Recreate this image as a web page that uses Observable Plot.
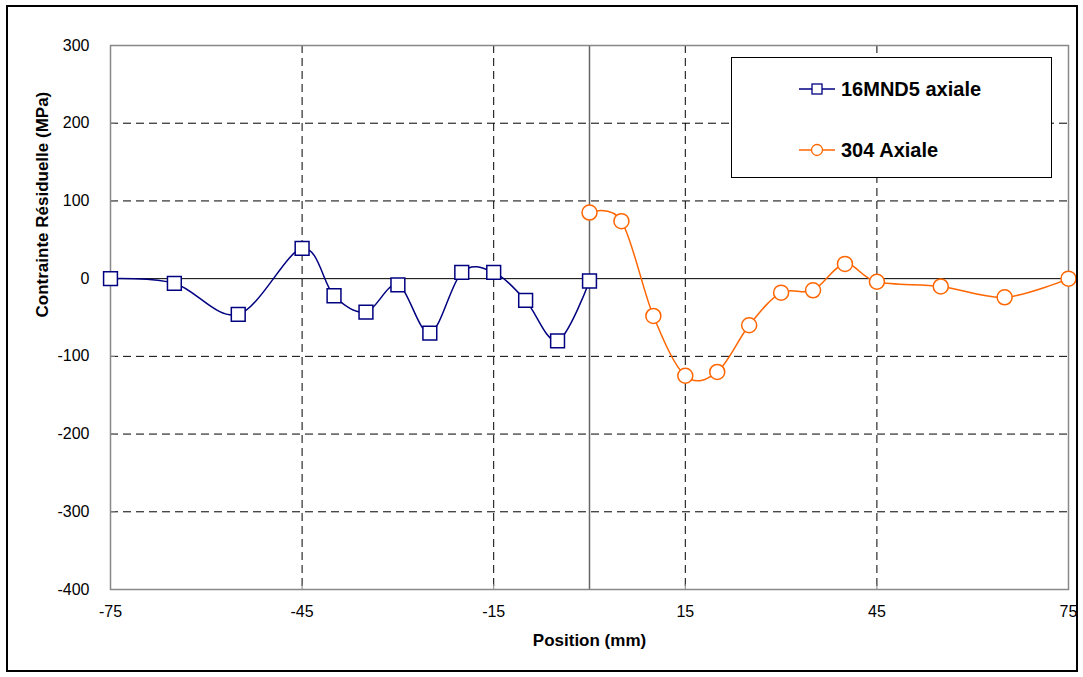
<!DOCTYPE html>
<html><head><meta charset="utf-8">
<script src="https://cdn.jsdelivr.net/npm/d3@7"></script>
<script src="https://cdn.jsdelivr.net/npm/@observablehq/plot@0.6"></script>
<style>
body{margin:0;background:#fff;font-family:"Liberation Sans",Arial,sans-serif;}
#wrap{position:relative;width:1083px;height:677px;overflow:hidden}
#border{position:absolute;left:6px;top:5px;width:1072px;height:667px;box-sizing:border-box;border:2px solid #000;pointer-events:none}
#legend{position:absolute;left:731px;top:57px;width:321px;height:121px;box-sizing:border-box;border:1.5px solid #000;background:#fff}
.entry{position:absolute;left:67px;height:30px;display:flex;align-items:center;font-weight:bold;font-size:20px;color:#000;white-space:nowrap}
.entry svg{margin-right:6px}
</style></head><body><div id="wrap"></div>
<script>
const seriesNames = ["16MND5 axiale", "304 Axiale"];
const posA = [-75, -65, -55, -45, -40, -35, -30, -25, -20, -15, -10, -5, 0];
const valA = [0, -6, -46, 39, -22, -43, -8, -70, 8, 8, -28, -80, -3];
const posB = [0, 5, 10, 15, 20, 25, 30, 35, 40, 45, 55, 65, 75];
const valB = [85, 74, -48, -125, -120, -60, -18, -15, 19, -4, -10, -24, 0];
const xTicks = [-75, -45, -15, 15, 45, 75];
const yTicks = [-400, -300, -200, -100, 0, 100, 200, 300];
const xGrid = [-45, -15, 15, 45];
const yGrid = [-300, -200, -100, 100, 200];
const colors = ["#000080", "#FF6600"];

const A = posA.map((x, i) => ({x, y: valA[i]}));
const B = posB.map((x, i) => ({x, y: valB[i]}));

const chart = Plot.plot({
  width: 1083, height: 677,
  marginLeft: 110, marginRight: 15, marginTop: 45, marginBottom: 88,
  style: {fontFamily: "Liberation Sans, Arial, sans-serif", fontSize: "16px", color: "#000", background: "transparent"},
  x: {domain: [-75, 75]},
  y: {domain: [-400, 300]},
  marks: [
    Plot.ruleY(yGrid, {stroke: "#000", strokeDasharray: "8,5", strokeWidth: 1}),
    Plot.ruleX(xGrid, {stroke: "#000", strokeDasharray: "8,5", strokeWidth: 1}),
    Plot.ruleY([0], {stroke: "#000", strokeWidth: 1}),
    Plot.ruleX([0], {stroke: "#666", strokeWidth: 1.5}),
    Plot.frame({stroke: "#888", strokeWidth: 1.5}),
    Plot.ruleY(yTicks, {x1: -75, x2: -74.2, stroke: "#888"}),
    Plot.ruleX(xTicks, {y1: -400, y2: -393.5, stroke: "#888"}),
    Plot.axisY({ticks: yTicks, tickSize: 0, tickPadding: 21, label: null, fontSize: 16, tickFormat: d => String(d)}),
    Plot.axisX({ticks: xTicks, tickSize: 0, tickPadding: 16, label: null, fontSize: 16, tickFormat: d => String(d)}),
    Plot.line(A, {x: "x", y: "y", curve: "cardinal", stroke: colors[0], strokeWidth: 1.5}),
    Plot.dot(A, {x: "x", y: "y", symbol: "square", r: 7.8, fill: "#fff", stroke: colors[0], strokeWidth: 1.5}),
    Plot.line(B, {x: "x", y: "y", curve: "cardinal", stroke: colors[1], strokeWidth: 1.5}),
    Plot.dot(B, {x: "x", y: "y", symbol: "circle", r: 7.5, fill: "#fff", stroke: colors[1], strokeWidth: 1.5}),
    Plot.text(["Position (mm)"], {frameAnchor: "bottom", dy: 56, fontWeight: "bold", fontSize: 17}),
    Plot.text(["Contrainte Résiduelle (MPa)"], {frameAnchor: "left", dx: -68, rotate: -90, fontWeight: "bold", fontSize: 17})
  ]
});

const wrap = document.getElementById("wrap");
wrap.appendChild(chart);
const border = document.createElement("div");
border.id = "border";
wrap.appendChild(border);

const legend = document.createElement("div");
legend.id = "legend";
const sym = [
  `<rect x="13" y="10" width="10" height="10" fill="#fff" stroke="${colors[0]}" stroke-width="1.3"/>`,
  `<circle cx="18" cy="15" r="5.5" fill="#fff" stroke="${colors[1]}" stroke-width="1.3"/>`
];
seriesNames.forEach((name, i) => {
  const e = document.createElement("div");
  e.className = "entry";
  e.style.top = (i === 0 ? 16 : 77) + "px";
  e.innerHTML = `<svg width="36" height="30"><line x1="0" x2="36" y1="15" y2="15" stroke="${colors[i]}" stroke-width="1.5"/>${sym[i]}</svg><span>${name}</span>`;
  legend.appendChild(e);
});
wrap.appendChild(legend);
</script>
</body></html>
